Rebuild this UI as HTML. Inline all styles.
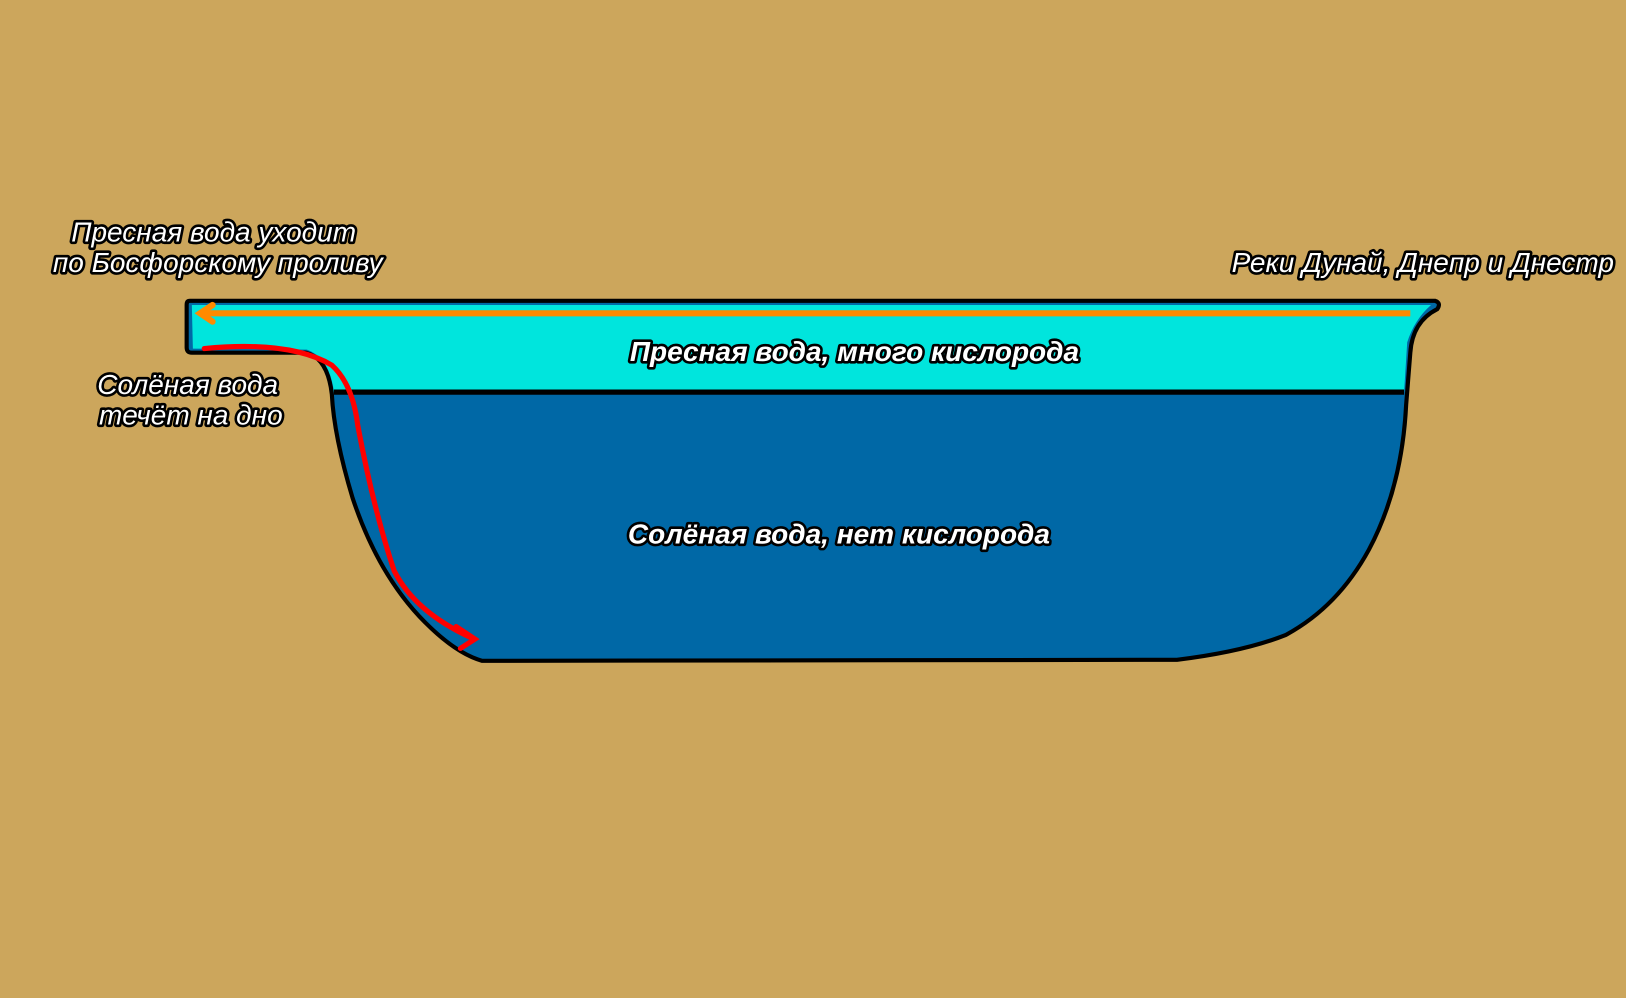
<!DOCTYPE html>
<html><head><meta charset="utf-8"><style>
html,body{margin:0;padding:0;background:#CCA65C;}
svg{display:block}
text{font-family:"Liberation Sans",sans-serif;font-style:italic;fill:#fff;stroke:#000;stroke-width:5px;paint-order:stroke;stroke-linejoin:round;}
</style></head><body>
<svg width="1626" height="998" viewBox="0 0 1568 962" preserveAspectRatio="none" xmlns="http://www.w3.org/2000/svg">
<rect width="1568" height="962" fill="#CCA65C"/>
<path d="M183,290 L1384,290 Q1390,292 1386,298 Q1362,310 1360,340 L1356,390 Q1352,470 1320,530 Q1290,585 1240,612 Q1200,628 1135,636 L465,637 Q440,630 410,600 Q365,555 340,480 Q322,420 320,380 Q316,345 295,340 L185,340 Q180,340 180,335 L180,294 Q180,290 183,290 Z" fill="#0068A6" stroke="#000" stroke-width="4"/>
<path d="M185,294 L1380,294 Q1364,308 1357,330 L1354,378 L322,378 Q318,345 296,337 L186,336 Z" fill="#00E5DD"/>
<line x1="322" y1="378" x2="1354" y2="378" stroke="#000" stroke-width="5"/>
<line x1="1360" y1="302" x2="198" y2="302" stroke="#FF8A00" stroke-width="6"/>
<path d="M205,294 L193,302 L205,310" fill="none" stroke="#FF8A00" stroke-width="6" stroke-linecap="round"/>
<path d="M197,336 Q280,328 320,352 Q340,370 345,410 Q360,490 380,550 Q400,590 455,615" fill="none" stroke="#F00" stroke-width="5" stroke-linecap="round"/>
<path d="M440,604 L458,616 L444,625" fill="none" stroke="#F00" stroke-width="5" stroke-linecap="round"/>
<text x="206" y="233" font-size="27" text-anchor="middle">Пресная вода уходит</text>
<text x="210" y="262" font-size="27" text-anchor="middle">по Босфорскому проливу</text>
<text x="1372" y="262" font-size="27" text-anchor="middle">Реки Дунай, Днепр и Днестр</text>
<text x="181" y="380" font-size="27" text-anchor="middle">Солёная вода</text>
<text x="184" y="409" font-size="27" text-anchor="middle">течёт на дно</text>
<text x="824" y="348" font-size="27" font-weight="bold" text-anchor="middle">Пресная вода, много кислорода</text>
<text x="809" y="524" font-size="27" font-weight="bold" text-anchor="middle">Солёная вода, нет кислорода</text>
</svg>
</body></html>
